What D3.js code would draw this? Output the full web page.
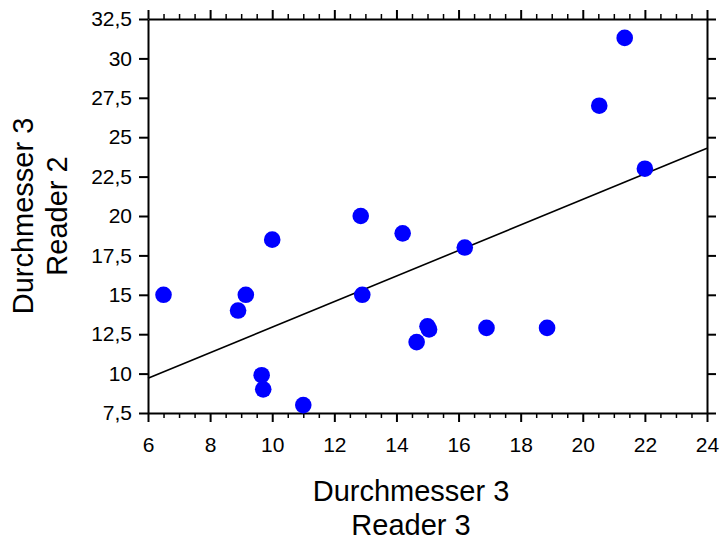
<!DOCTYPE html>
<html>
<head>
<meta charset="utf-8">
<script src="https://cdn.jsdelivr.net/npm/d3@7"></script>
<style>
  body { margin: 0; background: #fff; }
  svg { display: block; font-family: "Liberation Sans", Arial, sans-serif; }
</style>
</head>
<body>
<div id="chart"></div>
<script>
var reader3 = [6.5, 10, 9.15, 8.9, 9.66, 9.71, 11, 12.85, 14.2, 16.2, 12.9, 15, 15.05, 14.65, 16.9, 18.85, 21.35, 20.53, 22];
var reader2 = [15, 18.5, 15, 14, 9.9, 9, 8, 20, 18.9, 18, 15, 13, 12.8, 12, 12.9, 12.9, 31.3, 27, 23];
var xTicks = [6, 8, 10, 12, 14, 16, 18, 20, 22, 24];
var yTicks = [7.5, 10, 12.5, 15, 17.5, 20, 22.5, 25, 27.5, 30, 32.5];
var fitX = [6, 24];
var fitY = [9.7, 24.3];

var w = 720, h = 541,
    mLeft = 148, mRight = 707, mTop = 19, mBottom = 413;

var svg = d3.select("#chart").append("svg")
    .attr("width", w)
    .attr("height", h);

var x = d3.scaleLinear().domain([6, 24]).range([mLeft, mRight]);
var y = d3.scaleLinear().domain([7.5, 32.5]).range([mBottom, mTop]);
var comma = function (d) { return String(d).replace(".", ","); };
var minorX = d3.range(6, 24.01, 0.5).filter(function (d) { return d % 2 !== 0; });

// minor ticks first, then the major axes over them
function minor(axisFn, pos) {
    var g = svg.append("g").attr("transform", pos)
        .call(axisFn(x).tickValues(minorX).tickSize(5).tickFormat(""));
    g.select(".domain").remove();
    g.selectAll("line").attr("stroke", "#000").attr("stroke-width", 1.5);
}
minor(d3.axisBottom, "translate(0," + mBottom + ")");
minor(d3.axisTop, "translate(0," + mTop + ")");

function styleAxis(g) {
    g.select(".domain").attr("stroke", "#000").attr("stroke-width", 2);
    g.selectAll(".tick line").attr("stroke", "#000").attr("stroke-width", 2);
    g.attr("font-size", 21).attr("font-family", "Liberation Sans, Arial, sans-serif");
    g.selectAll("text").attr("fill", "#000");
}

svg.append("g").attr("transform", "translate(0," + mBottom + ")")
    .call(d3.axisBottom(x).tickValues(xTicks).tickSize(9).tickSizeOuter(0).tickPadding(15).tickFormat(d3.format("d")))
    .call(styleAxis);
svg.append("g").attr("transform", "translate(0," + mTop + ")")
    .call(d3.axisTop(x).tickValues(xTicks).tickSize(9).tickSizeOuter(0).tickFormat(""))
    .call(styleAxis);
svg.append("g").attr("transform", "translate(" + mLeft + ",0)")
    .call(d3.axisLeft(y).tickValues(yTicks).tickSize(9).tickSizeOuter(0).tickPadding(7).tickFormat(comma))
    .call(styleAxis);
svg.append("g").attr("transform", "translate(" + mRight + ",0)")
    .call(d3.axisRight(y).tickValues(yTicks).tickSize(9).tickSizeOuter(0).tickFormat(""))
    .call(styleAxis);

// regression line
svg.append("line")
    .attr("x1", x(fitX[0])).attr("y1", y(fitY[0]))
    .attr("x2", x(fitX[1])).attr("y2", y(fitY[1]))
    .attr("stroke", "#000").attr("stroke-width", 1.6);

svg.selectAll("circle.pt").data(reader3).enter()
    .append("circle")
    .attr("class", "pt")
    .attr("cx", function (d) { return x(d); })
    .attr("cy", function (d, i) { return y(reader2[i]); })
    .attr("r", 8.3)
    .attr("fill", "#0000ff");

// axis titles
var xt = svg.append("text").attr("text-anchor", "middle").attr("font-size", 29).attr("fill", "#000");
xt.append("tspan").attr("x", 411).attr("y", 501).text("Durchmesser 3");
xt.append("tspan").attr("x", 411).attr("y", 535).text("Reader 3");

var yt = svg.append("text").attr("text-anchor", "middle").attr("font-size", 29).attr("fill", "#000")
    .attr("transform", "translate(0,216) rotate(-90)");
yt.append("tspan").attr("x", 0).attr("y", 33).text("Durchmesser 3");
yt.append("tspan").attr("x", 0).attr("y", 67).text("Reader 2");
</script>
</body>
</html>
